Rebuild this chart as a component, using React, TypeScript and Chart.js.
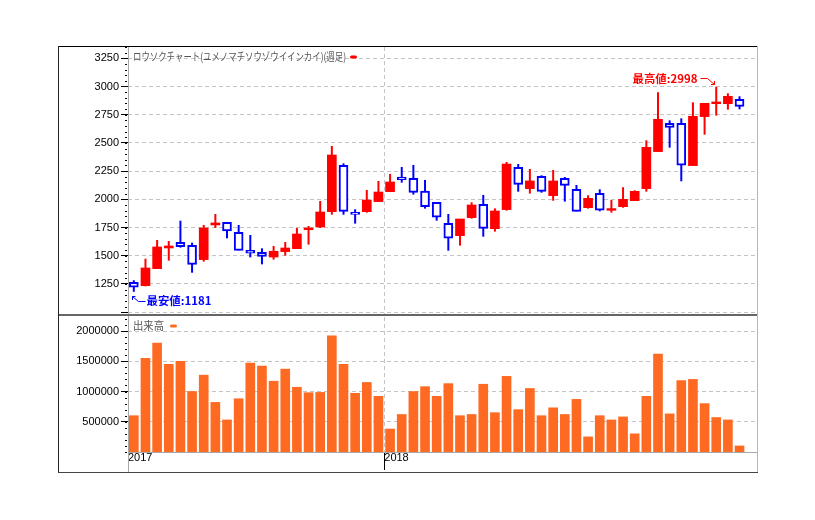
import React, { useEffect, useRef } from 'react';
import { Chart, registerables } from 'chart.js';

Chart.register(...registerables);

// ---- data (weekly candles) ----
const OPEN = [1265, 1235, 1386, 1569, 1619, 1593, 1466, 1773, 1797, 1708, 1548, 1531, 1489, 1537, 1563, 1731, 1755, 1891, 2302, 1885, 1891, 1980,
  2068, 2198, 2186, 2074, 1974, 1788, 1678, 1838, 1956, 1740, 1909, 2284, 2095, 2204, 2033, 2186, 2089, 1926, 2053, 1903, 1935, 1988, 2095, 2423, 2674, 2674, 2299, 2733, 2848, 2848, 2887];
const HIGH = [1283, 1474, 1640, 1631, 1811, 1616, 1773, 1870, 1797, 1773, 1684, 1566, 1587, 1622, 1746, 1764, 1985, 2473, 2319, 1912, 2083, 2163,
  2225, 2287, 2305, 2172, 1974, 1870, 1826, 1974, 2039, 1920, 2331, 2313, 2269, 2213, 2260, 2198, 2127, 2036, 2089, 1994, 2107, 2080, 2523, 2949, 2700, 2718, 2860, 2851, 2998, 2940, 2913];
const LOW = [1181, 1229, 1386, 1457, 1572, 1350, 1448, 1746, 1655, 1548, 1486, 1424, 1466, 1501, 1563, 1599, 1746, 1864, 1864, 1785, 1882, 1980,
  2068, 2148, 2042, 1918, 1811, 1545, 1590, 1829, 1669, 1714, 1900, 2068, 2051, 2059, 1988, 1980, 1894, 1918, 1894, 1882, 1926, 1988, 2068, 2423, 2458, 2160, 2299, 2573, 2742, 2795, 2798];
const CLOSE = [1222, 1392, 1578, 1587, 1581, 1424, 1746, 1791, 1720, 1548, 1522, 1495, 1540, 1569, 1693, 1746, 1888, 2393, 1894, 1867, 1994, 2065,
  2154, 2175, 2062, 1935, 1841, 1655, 1826, 1950, 1743, 1897, 2313, 2133, 2163, 2071, 2163, 2124, 1894, 2009, 1903, 1918, 2000, 2071, 2461, 2709, 2638, 2302, 2736, 2851, 2863, 2913, 2824];
const VOLUME = [600000, 1550000, 1800000, 1450000, 1500000, 1000000, 1270000, 820000, 530000, 880000, 1470000, 1420000, 1170000, 1370000, 1070000, 980000, 985000, 1920000, 1450000, 970000, 1150000, 920000,
  380000, 620000, 1000000, 1080000, 920000, 1130000, 600000, 620000, 1120000, 650000, 1250000, 700000, 1050000, 600000, 730000, 620000, 870000, 250000, 600000, 530000, 580000, 300000, 920000, 1620000, 630000, 1180000, 1200000, 800000, 570000, 530000, 100000];

const YEAR_LABELS = ['2017', '2018'];
const YEAR_START = [0, 22];
const SLOT_COUNT = 54;

const PRICE_TICKS = [1000, 1250, 1500, 1750, 2000, 2250, 2500, 2750, 3000, 3250];
const PRICE_LABEL_FROM = 1250;
const VOLUME_TICKS = [500000, 1000000, 1500000, 2000000];

const PRICE_TITLE = 'ロウソクチャート(ユメノマチソウゾウイインカイ)(週足)';
const VOLUME_TITLE = '出来高';
const LOW_LABEL = '最安値:';
const HIGH_LABEL = '最高値:';

// ---- styles ----
const RED = '#ff0000';
const BLUE = '#0000ff';
const ORANGE = '#ff6a22';
const GRID = '#c4c4c4';
const DASH = [4, 3];
const TICK_FONT = { family: '"Liberation Sans", Arial, sans-serif', size: 11 };
const CJK = '"Noto Sans CJK JP", sans-serif';

const IDX = OPEN.map((_, i) => i);
const isUp = (i: number) => CLOSE[i] >= OPEN[i];

function drawFitText(ctx: CanvasRenderingContext2D, text: string, font: string, color: string, x: number, y: number, width: number, align: 'left' | 'right' = 'left') {
  ctx.save();
  ctx.font = font;
  const w = ctx.measureText(text).width;
  const sx = width / w;
  ctx.translate(align === 'left' ? x : x - width, y);
  ctx.scale(sx, 1);
  ctx.fillStyle = color;
  ctx.textBaseline = 'middle';
  ctx.textAlign = 'left';
  ctx.fillText(text, 0, 0);
  ctx.restore();
}

function minorTicks(axisId: string, step: number) {
  return {
    id: 'minor-' + axisId,
    afterDraw(chart: any) {
      const s = chart.scales[axisId];
      const ctx = chart.ctx;
      ctx.save();
      ctx.fillStyle = '#000';
      const start = Math.ceil(s.min / step) * step;
      for (let v = start; v <= s.max; v += step) {
        const y = Math.round(s.getPixelForValue(v));
        ctx.fillRect(chart.chartArea.left - 3, y, 2, 1);
      }
      ctx.restore();
    },
  };
}

function legendPlugin(text: string, color: string, textWidth: number, dy: number, gap: number) {
  return {
    id: 'legend-text',
    afterDraw(chart: any) {
      const { ctx, chartArea } = chart;
      const x = chartArea.left + 5;
      const y = chartArea.top + dy;
      drawFitText(ctx, text, `11px ${CJK}`, '#555', x, y, textWidth);
      ctx.save();
      ctx.fillStyle = color;
      ctx.beginPath();
      (ctx as any).roundRect(x + textWidth + gap, y - 1.5, 7, 3, 1.5);
      ctx.fill();
      ctx.restore();
    },
  };
}

const extremesPlugin = {
  id: 'extremes',
  afterDatasetsDraw(chart: any) {
    const ctx = chart.ctx as CanvasRenderingContext2D;
    const xs = chart.scales.x;
    const ys = chart.scales.y;
    const minVal = Math.min(...LOW);
    const minIdx = LOW.indexOf(minVal);
    const maxVal = Math.max(...HIGH);
    const maxIdx = HIGH.indexOf(maxVal);

    ctx.save();
    ctx.lineWidth = 1;
    // lowest
    {
      const cx = xs.getPixelForValue(minIdx);
      const cy = ys.getPixelForValue(minVal);
      const tx = Math.round(cx - 2) + 0.5;
      const ty = Math.round(cy + 4) + 0.5;
      ctx.strokeStyle = BLUE;
      ctx.beginPath();
      ctx.moveTo(tx, ty + 3.5); ctx.lineTo(tx, ty); ctx.lineTo(tx + 3, ty);
      ctx.moveTo(tx, ty); ctx.lineTo(tx + 6, ty + 5); ctx.lineTo(tx + 13, ty + 5);
      ctx.stroke();
      drawFitText(ctx, LOW_LABEL + minVal, `bold 11px ${CJK}`, BLUE, tx + 14, ty + 4, 65);
    }
    // highest
    {
      const cx = xs.getPixelForValue(maxIdx);
      const cy = ys.getPixelForValue(maxVal);
      const tx = Math.round(cx - 2) + 0.5;
      const ty = Math.round(cy - 3) + 0.5;
      ctx.strokeStyle = RED;
      ctx.beginPath();
      ctx.moveTo(tx, ty - 3.5); ctx.lineTo(tx, ty); ctx.lineTo(tx - 3.5, ty);
      ctx.moveTo(tx, ty); ctx.lineTo(tx - 7, ty - 6); ctx.lineTo(tx - 14, ty - 6);
      ctx.stroke();
      drawFitText(ctx, HIGH_LABEL + maxVal, `bold 11px ${CJK}`, RED, tx - 17, ty - 5.5, 65, 'right');
    }
    ctx.restore();
  },
};

const yearTicks = (s: any) => {
  s.ticks = YEAR_START.map((v) => ({ value: v - 0.5 }));
};
const gridAtYear = (c: any) => (c.tick && c.tick.value > 0 ? GRID : 'rgba(0,0,0,0)');
const noPad = (s: any) => {
  s.paddingTop = 0;
  s.paddingBottom = 0;
  s.paddingLeft = 0;
  s.paddingRight = 0;
};

export default function App() {
  const priceRef = useRef<HTMLCanvasElement>(null);
  const volRef = useRef<HTMLCanvasElement>(null);

  useEffect(() => {
    const priceChart = new Chart(priceRef.current as HTMLCanvasElement, {
      type: 'bar',
      data: {
        datasets: [
          {
            label: 'wick',
            data: IDX.map((i) => ({ x: i, y: [LOW[i], HIGH[i]] })) as any,
            backgroundColor: IDX.map((i) => (isUp(i) ? RED : BLUE)),
            barThickness: 2,
            borderWidth: 0,
            inflateAmount: 0,
            grouped: false,
            order: 2,
          } as any,
          {
            label: 'body',
            data: IDX.map((i) => ({ x: i, y: [OPEN[i], CLOSE[i]] })) as any,
            backgroundColor: IDX.map((i) => (isUp(i) ? RED : '#ffffff')),
            borderColor: IDX.map((i) => (isUp(i) ? RED : BLUE)),
            borderWidth: IDX.map((i) => (isUp(i) ? 0 : 2)),
            borderSkipped: false,
            barThickness: 9,
            grouped: false,
            order: 1,
          } as any,
        ],
      },
      options: {
        responsive: false,
        animation: false,
        layout: { padding: { top: 1, right: 1, bottom: 0, left: 0 } },
        plugins: { legend: { display: false }, tooltip: { enabled: false } },
        scales: {
          x: {
            type: 'linear',
            min: -0.5,
            max: SLOT_COUNT - 0.5,
            offset: false,
            afterBuildTicks: yearTicks,
            afterFit: (s: any) => { s.height = 0; noPad(s); },
            ticks: { display: false, autoSkip: false },
            grid: { offset: false, drawTicks: false, color: gridAtYear },
            border: { display: false, dash: DASH },
          } as any,
          y: {
            type: 'linear',
            min: 984,
            max: 3350,
            afterBuildTicks: (s: any) => { s.ticks = PRICE_TICKS.map((v) => ({ value: v })); },
            afterFit: (s: any) => { s.width = 70; noPad(s); },
            ticks: {
              autoSkip: false,
              padding: 2,
              color: '#000',
              font: TICK_FONT,
              callback: (v: any) => (v >= PRICE_LABEL_FROM ? String(v) : ''),
            },
            grid: { color: GRID, tickColor: '#000', tickLength: 7, tickWidth: 1 },
            border: { display: false, dash: DASH },
          } as any,
        },
      },
      plugins: [minorTicks('y', 50), legendPlugin(PRICE_TITLE, RED, 213, 10, 4), extremesPlugin],
    });

    const volChart = new Chart(volRef.current as HTMLCanvasElement, {
      type: 'bar',
      data: {
        datasets: [
          {
            label: VOLUME_TITLE,
            data: VOLUME.map((v, i) => ({ x: i, y: v })) as any,
            backgroundColor: ORANGE,
            borderWidth: 0,
            barThickness: 9,
          } as any,
        ],
      },
      options: {
        responsive: false,
        animation: false,
        layout: { padding: { top: 1, right: 1, bottom: 0, left: 0 } },
        plugins: { legend: { display: false }, tooltip: { enabled: false } },
        scales: {
          x: {
            type: 'linear',
            min: -0.5,
            max: SLOT_COUNT - 0.5,
            offset: false,
            afterBuildTicks: yearTicks,
            afterFit: (s: any) => { s.height = 20; noPad(s); },
            ticks: {
              autoSkip: false,
              maxRotation: 0,
              align: 'start',
              padding: -19,
              color: '#000',
              font: TICK_FONT,
              callback: (_v: any, i: number) => YEAR_LABELS[i],
            },
            grid: {
              offset: false,
              color: gridAtYear,
              tickColor: (c: any) => (c.tick && c.tick.value > 0 ? '#000' : 'rgba(0,0,0,0)'),
              tickLength: 18,
              tickWidth: 1,
            },
            border: { display: false, dash: DASH },
          } as any,
          y: {
            type: 'linear',
            min: 0,
            max: 2231405,
            afterBuildTicks: (s: any) => { s.ticks = VOLUME_TICKS.map((v) => ({ value: v })); },
            afterFit: (s: any) => { s.width = 70; noPad(s); },
            ticks: {
              autoSkip: false,
              padding: 2,
              color: '#000',
              font: TICK_FONT,
              callback: (v: any) => String(v),
            },
            grid: { color: GRID, tickColor: '#000', tickLength: 7, tickWidth: 1 },
            border: { display: false, dash: DASH },
          } as any,
        },
      },
      plugins: [minorTicks('y', 100000), legendPlugin(VOLUME_TITLE, ORANGE, 31, 9, 6)],
    });

    return () => {
      priceChart.destroy();
      volChart.destroy();
    };
  }, []);

  const line = (left: number, top: number, width: number, height: number, bg: string) => (
    <div style={{ position: 'absolute', left, top, width, height, background: bg }} />
  );

  return (
    <div style={{ position: 'absolute', left: 0, top: 0, width: 815, height: 520, background: '#fff' }}>
      <canvas ref={priceRef} width={700} height={268} style={{ position: 'absolute', left: 58, top: 46, display: 'block' }} />
      <canvas ref={volRef} width={700} height={156} style={{ position: 'absolute', left: 58, top: 316, display: 'block' }} />
      {line(128, 46, 1, 427, '#a8a8a8')}
      {line(128, 452, 630, 1, '#a8a8a8')}
      {line(58, 314, 700, 2, '#666')}
      {line(58, 46, 700, 1, '#000')}
      {line(58, 46, 1, 427, '#222')}
      {line(757, 46, 1, 427, '#b8b8b8')}
      {line(58, 472, 700, 1, '#444')}
    </div>
  );
}
